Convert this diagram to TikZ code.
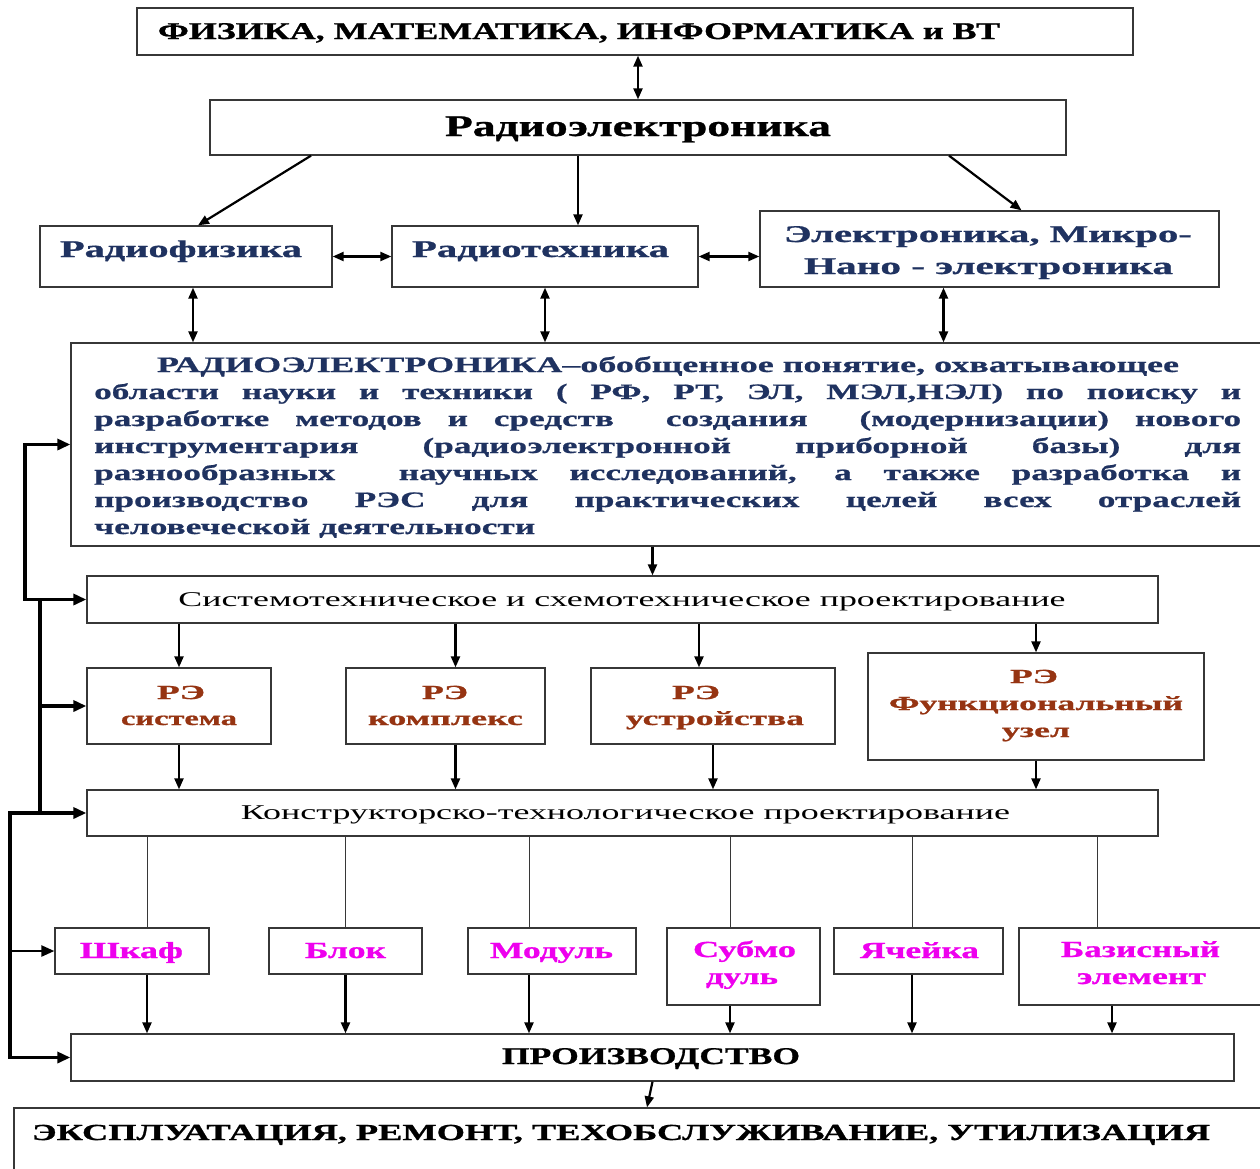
\documentclass[tikz,border=0pt]{standalone}
\usepackage{fontspec}
\usepackage{graphicx}
\setmainfont{Liberation Serif}[BoldFeatures={FakeBold=0.8}]
\newfontfamily\widefont{Liberation Serif}[FakeStretch=1.6,BoldFeatures={FakeBold=0.8}]
\usetikzlibrary{arrows.meta,calc}
\definecolor{navy}{RGB}{31,50,96}
\definecolor{brn}{RGB}{150,52,18}
\definecolor{mag}{RGB}{238,0,238}
\definecolor{edgec}{RGB}{55,55,55}
\newcommand\pfont{\widefont\bfseries\fontsize{22}{22}\selectfont}
\newcommand\bx[5]{\node[box,minimum width={#4-#2},minimum height={#5-#3}] (#1) at ({(#2+#4)/2},{(#3+#5)/2}) {};}
\newcommand\tx[7]{\node[anchor=base,inner sep=0pt,text=#6] (#1) at (#2,#3) {\resizebox{#4pt}{\height}{\fontsize{#5}{#5}\selectfont #7}};}
\tikzset{
  box/.style={draw=edgec,line width=1.3pt,inner sep=0pt},
  ar/.style={line width=2.2pt,-{Triangle[length=11pt,width=9pt]}},
  dar/.style={line width=2.2pt,{Triangle[length=11pt,width=9pt]}-{Triangle[length=11pt,width=9pt]}},
  fb/.style={line width=3.6pt,line join=miter},
  fba/.style={line width=3.6pt,line join=miter,-{Triangle[length=13pt,width=11pt]}},
  fbb/.style={line width=3.6pt,line join=miter,{Triangle[length=13pt,width=11pt]}-{Triangle[length=13pt,width=11pt]}},
  thinln/.style={line width=1pt,draw=edgec}
}
\begin{document}
\begin{tikzpicture}[x=1pt,y=-1pt]
\useasboundingbox (0,0) rectangle (1260,1168);
\fill[white] (0,0) rectangle (1260,1168);
\begin{scope}
\clip (0,0) rectangle (1260,1168);
% boxes
\bx{phys}{137}{8}{1133}{55}
\bx{radioel}{210}{100}{1066}{155}
\bx{rf}{40}{226}{332}{287}
\bx{rt}{392}{226}{698}{287}
\bx{el}{760}{211}{1219}{287}
\bx{big}{71}{343}{1270}{546}
\bx{sys}{87}{576}{1158}{623}
\bx{sA}{87}{668}{271}{744}
\bx{sB}{346}{668}{545}{744}
\bx{sC}{591}{668}{835}{744}
\bx{sD}{868}{653}{1204}{760}
\bx{kon}{87}{790}{1158}{836}
\bx{mA}{55}{928}{209}{974}
\bx{mB}{269}{928}{422}{974}
\bx{mC}{468}{928}{636}{974}
\bx{mD}{667}{928}{820}{1005}
\bx{mE}{834}{928}{1003}{974}
\bx{mF}{1019}{928}{1270}{1005}
\bx{proizv}{71}{1034}{1234}{1081}
\bx{expl}{14}{1108}{1270}{1175}

% texts
\tx{tphys}{579}{39}{842}{24}{black}{\bfseries ФИЗИКА, МАТЕМАТИКА, ИНФОРМАТИКА и ВТ}
\tx{tradioel}{638}{136}{386}{30}{black}{\bfseries Радиоэлектроника}
\tx{trf}{181}{257}{242}{24}{navy}{\bfseries Радиофизика}
\tx{trt}{540.5}{257}{257}{24}{navy}{\bfseries Радиотехника}
\tx{tel1}{988}{242}{408}{24}{navy}{\bfseries Электроника, Микро-}
\tx{tel2}{988.5}{274}{369}{24}{navy}{\bfseries Нано - электроника}

\node[anchor=base,inner sep=0pt,text=navy] (p1) at (668,372) {\resizebox{1022pt}{\height}{\pfont РАДИОЭЛЕКТРОНИКА–обобщенное понятие, охватывающее}};
\node[anchor=base west,inner sep=0pt,text=navy] (p2) at (94,399) {\makebox[1147pt][s]{\pfont области науки и техники ( РФ, РТ, ЭЛ, МЭЛ,НЭЛ) по поиску и}};
\node[anchor=base west,inner sep=0pt,text=navy] (p3) at (94,426) {\makebox[1147pt][s]{\pfont разработке методов и средств \ создания \ (модернизации) нового}};
\node[anchor=base west,inner sep=0pt,text=navy] (p4) at (94,453) {\makebox[1147pt][s]{\pfont инструментария (радиоэлектронной приборной базы) для}};
\node[anchor=base west,inner sep=0pt,text=navy] (p5) at (94,480) {\makebox[1147pt][s]{\pfont разнообразных \ научных исследований, а также разработка и}};
\node[anchor=base west,inner sep=0pt,text=navy] (p6) at (94,507) {\makebox[1147pt][s]{\pfont производство РЭС для практических целей всех отраслей}};
\node[anchor=base west,inner sep=0pt,text=navy] (p7) at (94,534) {\resizebox{441pt}{\height}{\pfont человеческой деятельности}};

\tx{tsys}{622}{606}{887}{21}{black}{Системотехническое и схемотехническое проектирование}
\tx{tsA1}{181}{699}{48}{20}{brn}{\bfseries РЭ}
\tx{tsA2}{179}{725}{116}{20}{brn}{\bfseries система}
\tx{tsB1}{445}{699}{46}{20}{brn}{\bfseries РЭ}
\tx{tsB2}{445.5}{725}{155}{20}{brn}{\bfseries комплекс}
\tx{tsC1}{696}{699}{48}{20}{brn}{\bfseries РЭ}
\tx{tsC2}{715}{725}{178}{20}{brn}{\bfseries устройства}
\tx{tsD1}{1034}{683}{48}{20}{brn}{\bfseries РЭ}
\tx{tsD2}{1036}{710}{294}{20}{brn}{\bfseries Функциональный}
\tx{tsD3}{1036}{737}{68}{20}{brn}{\bfseries узел}
\tx{tkon}{625.5}{819}{769}{21}{black}{Конструкторско-технологическое проектирование}

\tx{tmA}{131.5}{958}{103}{23}{mag}{\bfseries Шкаф}
\tx{tmB}{345.5}{958}{81}{23}{mag}{\bfseries Блок}
\tx{tmC}{551.5}{958}{123}{23}{mag}{\bfseries Модуль}
\tx{tmD1}{744.5}{957}{103}{23}{mag}{\bfseries Субмо}
\tx{tmD2}{742}{984}{72}{23}{mag}{\bfseries дуль}
\tx{tmE}{919.5}{958}{119}{23}{mag}{\bfseries Ячейка}
\tx{tmF1}{1140.5}{957}{159}{23}{mag}{\bfseries Базисный}
\tx{tmF2}{1141.5}{984}{129}{23}{mag}{\bfseries элемент}
\tx{tproizv}{651}{1064}{298}{24}{black}{\bfseries ПРОИЗВОДСТВО}
\tx{texpl}{621}{1140}{1178}{23}{black}{\bfseries ЭКСПЛУАТАЦИЯ, РЕМОНТ, ТЕХОБСЛУЖИВАНИЕ, УТИЛИЗАЦИЯ}

% connectors top
\draw[dar] (radioel.north |- phys.south) -- (radioel.north);
\coordinate (d1) at ([xshift=-327pt]radioel.south);
\coordinate (d2) at ([xshift=-60pt]radioel.south);
\coordinate (d3) at ([xshift=311pt]radioel.south);
\draw[ar] (d1) -- ([xshift=12pt]rf.north);
\draw[ar] (d2) -- (d2 |- rt.north);
\draw[ar] (d3) -- ([xshift=32pt]el.north);
\draw[dar] (rf.east) -- (rf.east -| rt.west);
\draw[dar] (rt.east) -- (rt.east -| el.west);
\coordinate (u1) at ([xshift=7pt]rf.south);
\coordinate (u2) at (rt.south);
\coordinate (u3) at ([xshift=-46pt]el.south);
\draw[dar] (u1) -- (u1 |- big.north);
\draw[dar] (u2) -- (u2 |- big.north);
\draw[dar] (u3) -- (u3 |- big.north);
\coordinate (u4) at ([xshift=30pt]sys.north);
\draw[ar] (u4 |- big.south) -- (u4);

% system level
\draw[ar] (sA.north |- sys.south) -- (sA.north);
\coordinate (a2) at ([xshift=10pt]sB.north);
\draw[ar] (a2 |- sys.south) -- (a2);
\coordinate (a3) at ([xshift=-14pt]sC.north);
\draw[ar] (a3 |- sys.south) -- (a3);
\draw[ar] (sD.north |- sys.south) -- (sD.north);
\draw[ar] (sA.south) -- (sA.south |- kon.north);
\coordinate (b2) at ([xshift=10pt]sB.south);
\draw[ar] (b2) -- (b2 |- kon.north);
\draw[ar] (sC.south) -- (sC.south |- kon.north);
\draw[ar] (sD.south) -- (sD.south |- kon.north);

% construction level
\foreach \n/\s in {mA/15,mB/0,mC/-23,mD/-13.5,mE/-6.5,mF/-47.5}{
  \coordinate (t\n) at ([xshift=\s pt]\n.north);
  \draw[thinln] (t\n |- kon.south) -- (t\n);
}
\foreach \n/\s in {mA/15,mB/0,mC/-23,mD/-13.5,mE/-6.5,mF/-32.5}{
  \coordinate (q\n) at ([xshift=\s pt]\n.south);
  \draw[ar] (q\n) -- (q\n |- proizv.north);
}
\draw[ar] (proizv.south) -- ([xshift=5pt]expl.north);

% feedback lines
\coordinate (j1) at (25,599.5);
\coordinate (j2) at (40,599.5);
\coordinate (j3) at (40,813);
\coordinate (j4) at (10,813);
\draw[fbb] (big.west) -| (j1) -- (sys.west);
\draw[fb] (j2) -- (j3);
\draw[fba] (j2 |- sA.west) -- (sA.west);
\draw[fbb] (kon.west) -- (j4) |- (proizv.west);
\draw[fba,line width=2.4pt] (j4 |- mA.west) -- (mA.west);
\end{scope}
\end{tikzpicture}
\end{document}
